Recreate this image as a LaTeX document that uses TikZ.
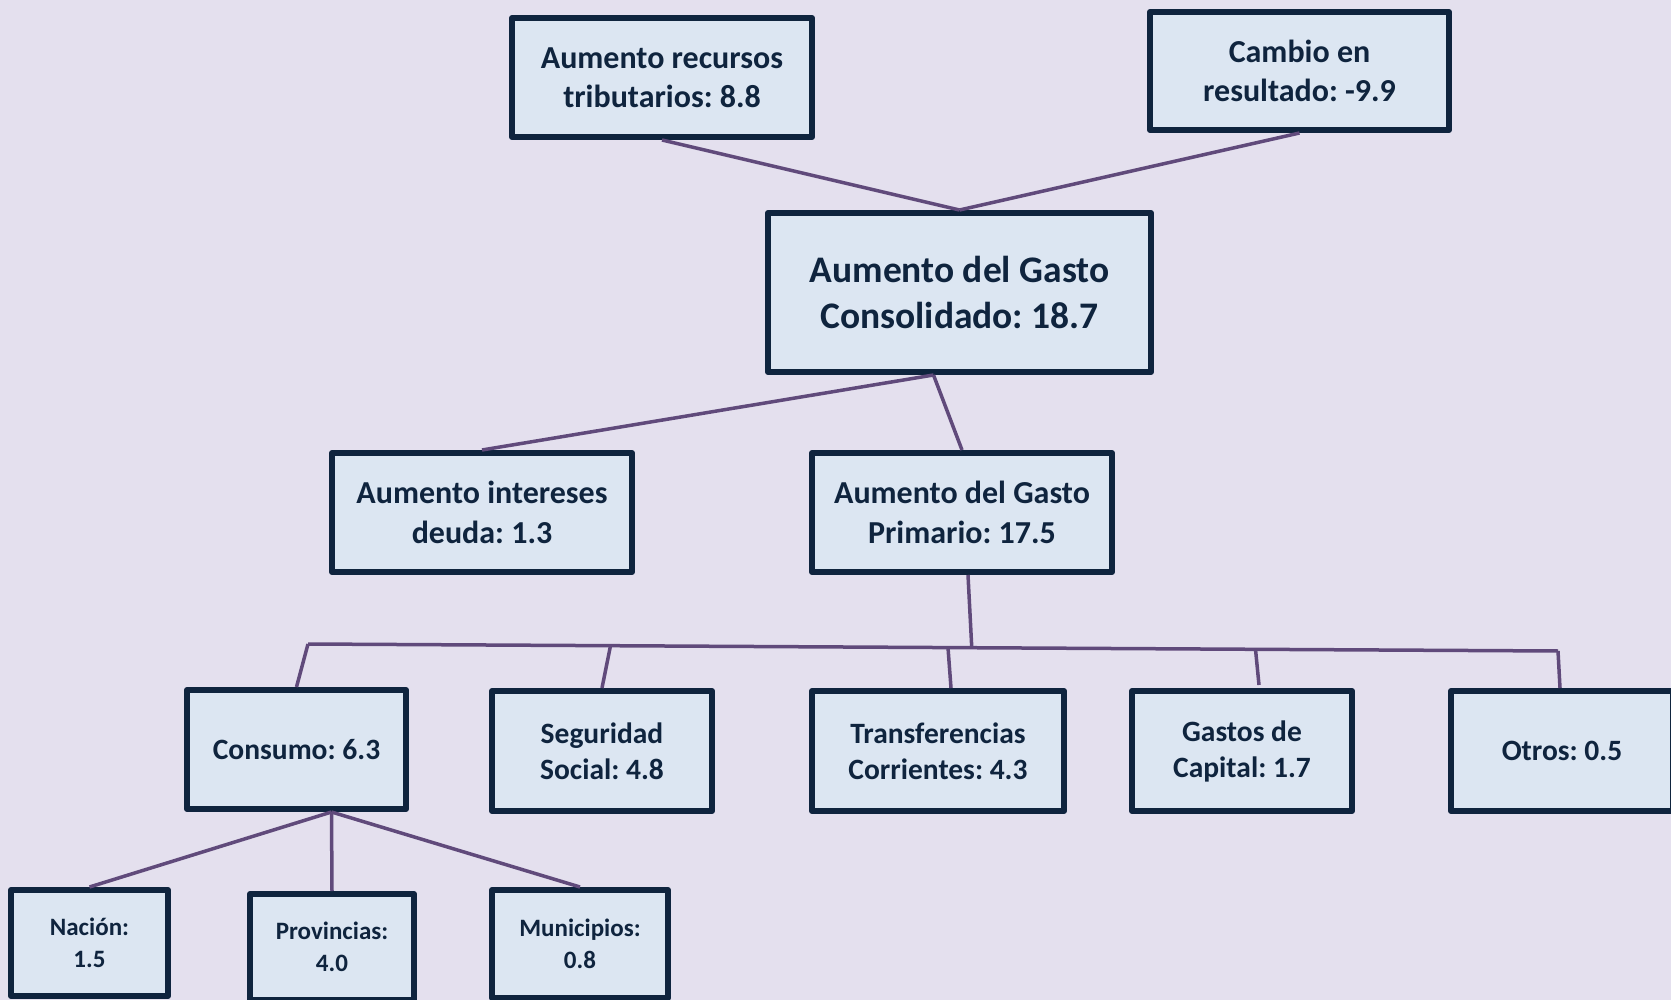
\documentclass[tikz,border=0pt]{standalone}
\usepackage{fontspec}
\setmainfont{Carlito}
\frenchspacing
\usetikzlibrary{calc}
\definecolor{bgc}{HTML}{E4E0EE}
\definecolor{boxfill}{HTML}{DCE6F2}
\definecolor{boxline}{HTML}{0F243E}
\definecolor{conn}{HTML}{604A7B}
\begin{document}
\begin{tikzpicture}[x=1pt,y=-1pt,
  box/.style={draw=boxline, fill=boxfill, line width=6pt, line join=round, inner sep=0pt, align=center,
    text=boxline, font=\bfseries\fontsize{32}{39.4}\selectfont},
  bigbox/.style={box, font=\bfseries\fontsize{37.5}{45.8}\selectfont},
  midbox/.style={box, font=\bfseries\fontsize{29.5}{36}\selectfont},
  smallbox/.style={box, font=\bfseries\fontsize{25}{32}\selectfont},
  link/.style={draw=conn, line width=3.5pt}]
\useasboundingbox (0,0) rectangle (1671,1000);
\fill[bgc] (0,0) rectangle (1671,1000);
\clip (0,0) rectangle (1671,1000);

\coordinate (busL) at (308,644);
\coordinate (busR) at (1558,651);

% boxes
\node[box, minimum width=300, minimum height=119] (rec) at (662,77.5) {Aumento recursos\\tributarios: 8.8};
\node[box, minimum width=299, minimum height=118] (cam) at (1299.5,71) {Cambio en\\resultado: -9.9};
\node[bigbox, minimum width=383, minimum height=159] (con) at (959.5,292.5) {Aumento del Gasto\\Consolidado: 18.7};
\node[box, minimum width=300, minimum height=119] (int) at (482,512.5) {Aumento intereses\\deuda: 1.3};
\node[box, minimum width=300, minimum height=119] (pri) at (962,512.5) {Aumento del Gasto\\Primario: 17.5};
\node[midbox, minimum width=219, minimum height=119] (cons) at (296.5,749.5) {Consumo: 6.3};
\node[midbox, minimum width=220, minimum height=120] (seg) at (602,751) {Seguridad\\Social: 4.8};
\node[midbox, minimum width=252, minimum height=120] (tra) at (938,751) {Transferencias\\Corrientes: 4.3};
\node[midbox, minimum width=220, minimum height=120] (gas) at (1242,751) {Gastos de\\Capital: 1.7};
\node[midbox, minimum width=222, minimum height=120] (otr) at (1562,751) {Otros: 0.5};
\node[smallbox, minimum width=157, minimum height=106] (nac) at (89.5,943) {Nación:\\1.5};
\node[smallbox, minimum width=164, minimum height=106] (pro) at (332,947) {Provincias:\\4.0};
\node[smallbox, minimum width=176, minimum height=108] (mun) at (580,944) {Municipios:\\0.8};

% connectors
\draw[link] (rec.south) -- (con.north);
\draw[link] (cam.south) -- (con.north);
\coordinate (conB) at ($(con.south)+(-26,0)$);
\draw[link] (conB) -- (int.north);
\draw[link] (conB) -- (pri.north);
\draw[link] (busL) -- (busR);
\coordinate (jPri) at ($(busL)!0.531!(busR)$);
\coordinate (jSeg) at ($(busL)!0.242!(busR)$);
\coordinate (jTra) at ($(busL)!0.512!(busR)$);
\coordinate (jGas) at ($(busL)!0.758!(busR)$);
\draw[link] ($(pri.south)+(6,0)$) -- (jPri);
\draw[link] (busL) -- (cons.north);
\draw[link] (jSeg) -- (seg.north);
\draw[link] (jTra) -- ($(tra.north)+(13,0)$);
\draw[link] (jGas) -- ($(gas.north)+(17,-3)$);
\draw[link] (busR) -- ($(otr.north)+(-2,0)$);
\coordinate (consB) at ($(cons.south)+(35,0)$);
\draw[link] (consB) -- (nac.north);
\draw[link] (consB) -- (pro.north);
\draw[link] (consB) -- (mun.north);
\end{tikzpicture}
\end{document}
